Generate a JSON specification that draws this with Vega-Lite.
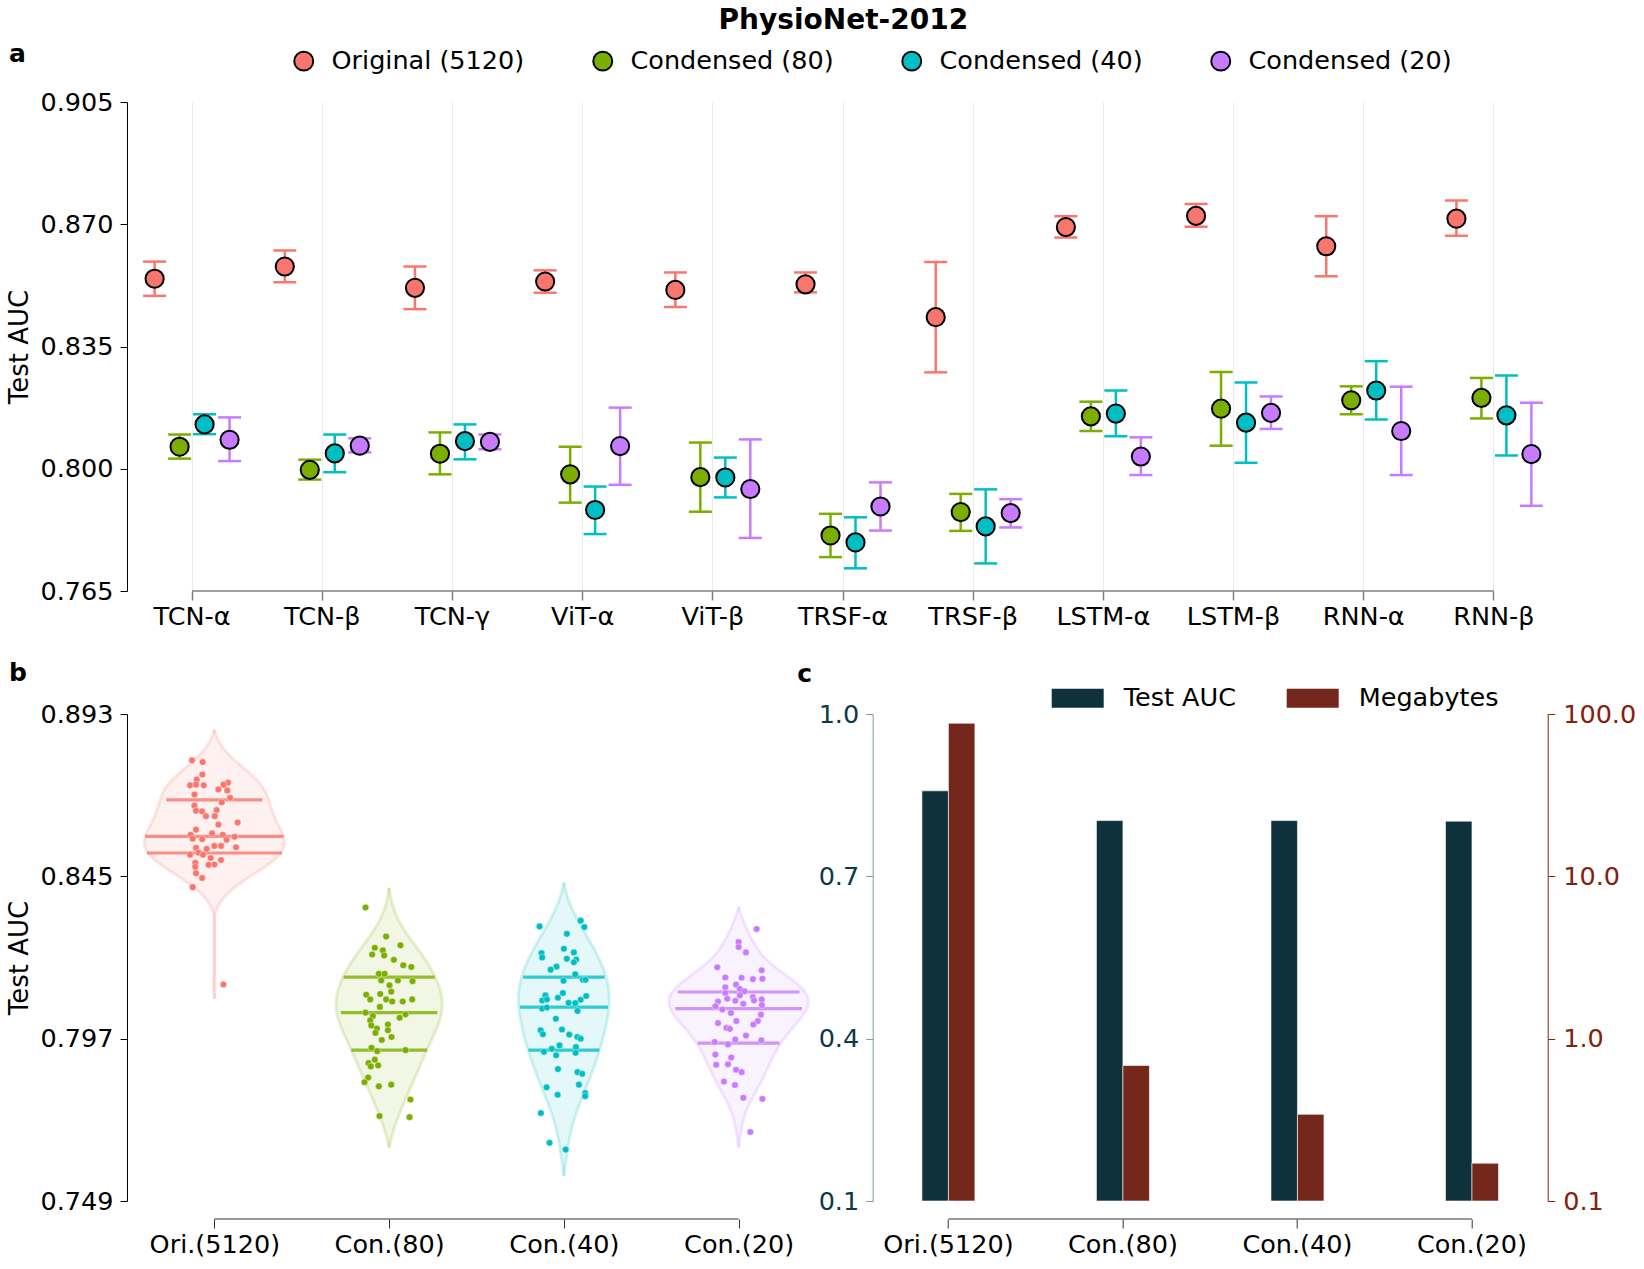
{
"$schema": "https://vega.github.io/schema/vega-lite/v6.json",
"padding": {"left": 6, "top": 7, "right": 2, "bottom": 4},
"bounds": "flush",
"spacing": 123,
"title": {"text": "PhysioNet-2012", "fontSize": 28, "fontWeight": "bold", "anchor": "middle", "frame": "bounds", "dx": 22, "offset": 7, "color": "black"},
"config": {
  "font": "DejaVu Sans",
  "view": {"stroke": null},
  "axis": {"labelFontSize": 25.5, "titleFontSize": 26, "titleFontWeight": "normal", "labelColor": "black", "titleColor": "black", "domainColor": "black", "tickColor": "black", "labelFont": "DejaVu Sans", "titleFont": "DejaVu Sans", "grid": false},
  "legend": {"labelFontSize": 25.5, "labelFont": "DejaVu Sans", "labelLimit": 400, "padding": 0},
  "title": {"font": "DejaVu Sans"}
},
"resolve": {"scale": {"color": "independent", "x": "independent", "y": "independent", "xOffset": "independent"}, "legend": {"color": "independent"}},
"datasets": {
  "models": [
    {"model": "TCN-α", "series": "Original (5120)", "mean": 0.8544, "lo": 0.8495, "hi": 0.8593},
    {"model": "TCN-β", "series": "Original (5120)", "mean": 0.8579, "lo": 0.8534, "hi": 0.8625},
    {"model": "TCN-γ", "series": "Original (5120)", "mean": 0.8518, "lo": 0.8457, "hi": 0.8579},
    {"model": "ViT-α", "series": "Original (5120)", "mean": 0.8536, "lo": 0.8504, "hi": 0.8568},
    {"model": "ViT-β", "series": "Original (5120)", "mean": 0.8512, "lo": 0.8463, "hi": 0.8562},
    {"model": "TRSF-α", "series": "Original (5120)", "mean": 0.8528, "lo": 0.8505, "hi": 0.8562},
    {"model": "TRSF-β", "series": "Original (5120)", "mean": 0.8434, "lo": 0.8276, "hi": 0.8592},
    {"model": "LSTM-α", "series": "Original (5120)", "mean": 0.8692, "lo": 0.8662, "hi": 0.8723},
    {"model": "LSTM-β", "series": "Original (5120)", "mean": 0.8724, "lo": 0.8693, "hi": 0.8758},
    {"model": "RNN-α", "series": "Original (5120)", "mean": 0.8637, "lo": 0.8551, "hi": 0.8723},
    {"model": "RNN-β", "series": "Original (5120)", "mean": 0.8716, "lo": 0.8667, "hi": 0.8768},
    {"model": "TCN-α", "series": "Condensed (80)", "mean": 0.8063, "lo": 0.8029, "hi": 0.8098},
    {"model": "TCN-β", "series": "Condensed (80)", "mean": 0.7997, "lo": 0.7969, "hi": 0.8026},
    {"model": "TCN-γ", "series": "Condensed (80)", "mean": 0.8043, "lo": 0.7984, "hi": 0.8104},
    {"model": "ViT-α", "series": "Condensed (80)", "mean": 0.7984, "lo": 0.7903, "hi": 0.8063},
    {"model": "ViT-β", "series": "Condensed (80)", "mean": 0.7976, "lo": 0.7877, "hi": 0.8075},
    {"model": "TRSF-α", "series": "Condensed (80)", "mean": 0.7809, "lo": 0.7747, "hi": 0.7871},
    {"model": "TRSF-β", "series": "Condensed (80)", "mean": 0.7876, "lo": 0.7822, "hi": 0.7928},
    {"model": "LSTM-α", "series": "Condensed (80)", "mean": 0.815, "lo": 0.8108, "hi": 0.8192},
    {"model": "LSTM-β", "series": "Condensed (80)", "mean": 0.8172, "lo": 0.8066, "hi": 0.8277},
    {"model": "RNN-α", "series": "Condensed (80)", "mean": 0.8196, "lo": 0.8156, "hi": 0.8236},
    {"model": "RNN-β", "series": "Condensed (80)", "mean": 0.8203, "lo": 0.8144, "hi": 0.826},
    {"model": "TCN-α", "series": "Condensed (40)", "mean": 0.8127, "lo": 0.8099, "hi": 0.8156},
    {"model": "TCN-β", "series": "Condensed (40)", "mean": 0.8044, "lo": 0.799, "hi": 0.8098},
    {"model": "TCN-γ", "series": "Condensed (40)", "mean": 0.8079, "lo": 0.8027, "hi": 0.8127},
    {"model": "ViT-α", "series": "Condensed (40)", "mean": 0.7882, "lo": 0.7813, "hi": 0.7949},
    {"model": "ViT-β", "series": "Condensed (40)", "mean": 0.7975, "lo": 0.7918, "hi": 0.8032},
    {"model": "TRSF-α", "series": "Condensed (40)", "mean": 0.7789, "lo": 0.7715, "hi": 0.7861},
    {"model": "TRSF-β", "series": "Condensed (40)", "mean": 0.7835, "lo": 0.7729, "hi": 0.7941},
    {"model": "LSTM-α", "series": "Condensed (40)", "mean": 0.8158, "lo": 0.8093, "hi": 0.8224},
    {"model": "LSTM-β", "series": "Condensed (40)", "mean": 0.8132, "lo": 0.8017, "hi": 0.8247},
    {"model": "RNN-α", "series": "Condensed (40)", "mean": 0.8224, "lo": 0.8141, "hi": 0.8308},
    {"model": "RNN-β", "series": "Condensed (40)", "mean": 0.8153, "lo": 0.8038, "hi": 0.8267},
    {"model": "TCN-α", "series": "Condensed (20)", "mean": 0.8083, "lo": 0.8022, "hi": 0.8147},
    {"model": "TCN-β", "series": "Condensed (20)", "mean": 0.8066, "lo": 0.8047, "hi": 0.8087},
    {"model": "TCN-γ", "series": "Condensed (20)", "mean": 0.8077, "lo": 0.8056, "hi": 0.8098},
    {"model": "ViT-α", "series": "Condensed (20)", "mean": 0.8065, "lo": 0.7954, "hi": 0.8175},
    {"model": "ViT-β", "series": "Condensed (20)", "mean": 0.7942, "lo": 0.7802, "hi": 0.8084},
    {"model": "TRSF-α", "series": "Condensed (20)", "mean": 0.7892, "lo": 0.7823, "hi": 0.7961},
    {"model": "TRSF-β", "series": "Condensed (20)", "mean": 0.7873, "lo": 0.7832, "hi": 0.7913},
    {"model": "LSTM-α", "series": "Condensed (20)", "mean": 0.8035, "lo": 0.7982, "hi": 0.809},
    {"model": "LSTM-β", "series": "Condensed (20)", "mean": 0.816, "lo": 0.8114, "hi": 0.8207},
    {"model": "RNN-α", "series": "Condensed (20)", "mean": 0.8108, "lo": 0.7982, "hi": 0.8235},
    {"model": "RNN-β", "series": "Condensed (20)", "mean": 0.8042, "lo": 0.7894, "hi": 0.8189}
  ],
  "pts": [
    {"group": "Ori.(5120)", "auc": 0.8793, "jitter": -0.128}, {"group": "Ori.(5120)", "auc": 0.8788, "jitter": -0.067}, {"group": "Ori.(5120)", "auc": 0.8751, "jitter": -0.069}, {"group": "Ori.(5120)", "auc": 0.8736, "jitter": -0.101}, {"group": "Ori.(5120)", "auc": 0.8719, "jitter": -0.139}, {"group": "Ori.(5120)", "auc": 0.8721, "jitter": -0.105}, {"group": "Ori.(5120)", "auc": 0.8719, "jitter": -0.061}, {"group": "Ori.(5120)", "auc": 0.8727, "jitter": 0.078}, {"group": "Ori.(5120)", "auc": 0.8721, "jitter": 0.052}, {"group": "Ori.(5120)", "auc": 0.8707, "jitter": 0.023}, {"group": "Ori.(5120)", "auc": 0.8704, "jitter": 0.074}, {"group": "Ori.(5120)", "auc": 0.8692, "jitter": -0.114}, {"group": "Ori.(5120)", "auc": 0.8682, "jitter": 0.09}, {"group": "Ori.(5120)", "auc": 0.8669, "jitter": 0.042}, {"group": "Ori.(5120)", "auc": 0.8659, "jitter": -0.114}, {"group": "Ori.(5120)", "auc": 0.8644, "jitter": -0.105}, {"group": "Ori.(5120)", "auc": 0.8642, "jitter": -0.07}, {"group": "Ori.(5120)", "auc": 0.8646, "jitter": 0.013}, {"group": "Ori.(5120)", "auc": 0.8628, "jitter": -0.048}, {"group": "Ori.(5120)", "auc": 0.8628, "jitter": 0.002}, {"group": "Ori.(5120)", "auc": 0.8609, "jitter": 0.133}, {"group": "Ori.(5120)", "auc": 0.8603, "jitter": 0.023}, {"group": "Ori.(5120)", "auc": 0.8588, "jitter": -0.105}, {"group": "Ori.(5120)", "auc": 0.8573, "jitter": -0.136}, {"group": "Ori.(5120)", "auc": 0.8561, "jitter": -0.124}, {"group": "Ori.(5120)", "auc": 0.8577, "jitter": -0.013}, {"group": "Ori.(5120)", "auc": 0.8573, "jitter": 0.048}, {"group": "Ori.(5120)", "auc": 0.856, "jitter": -0.07}, {"group": "Ori.(5120)", "auc": 0.8567, "jitter": 0.116}, {"group": "Ori.(5120)", "auc": 0.8558, "jitter": 0.07}, {"group": "Ori.(5120)", "auc": 0.854, "jitter": 0.038}, {"group": "Ori.(5120)", "auc": 0.854, "jitter": 0.0}, {"group": "Ori.(5120)", "auc": 0.8536, "jitter": 0.124}, {"group": "Ori.(5120)", "auc": 0.8534, "jitter": -0.105}, {"group": "Ori.(5120)", "auc": 0.8531, "jitter": -0.044}, {"group": "Ori.(5120)", "auc": 0.852, "jitter": -0.09}, {"group": "Ori.(5120)", "auc": 0.8514, "jitter": -0.139}, {"group": "Ori.(5120)", "auc": 0.8514, "jitter": -0.065}, {"group": "Ori.(5120)", "auc": 0.8504, "jitter": -0.021}, {"group": "Ori.(5120)", "auc": 0.8498, "jitter": 0.038}, {"group": "Ori.(5120)", "auc": 0.849, "jitter": -0.109}, {"group": "Ori.(5120)", "auc": 0.8484, "jitter": -0.033}, {"group": "Ori.(5120)", "auc": 0.8485, "jitter": 0.0}, {"group": "Ori.(5120)", "auc": 0.8478, "jitter": -0.109}, {"group": "Ori.(5120)", "auc": 0.8459, "jitter": -0.105}, {"group": "Ori.(5120)", "auc": 0.8445, "jitter": -0.07}, {"group": "Ori.(5120)", "auc": 0.8418, "jitter": -0.124}, {"group": "Ori.(5120)", "auc": 0.813, "jitter": 0.052},
    {"group": "Con.(80)", "auc": 0.8358, "jitter": -0.135}, {"group": "Con.(80)", "auc": 0.8272, "jitter": -0.017}, {"group": "Con.(80)", "auc": 0.8239, "jitter": -0.082}, {"group": "Con.(80)", "auc": 0.8231, "jitter": -0.036}, {"group": "Con.(80)", "auc": 0.8219, "jitter": -0.097}, {"group": "Con.(80)", "auc": 0.8216, "jitter": -0.028}, {"group": "Con.(80)", "auc": 0.8246, "jitter": 0.065}, {"group": "Con.(80)", "auc": 0.8203, "jitter": 0.027}, {"group": "Con.(80)", "auc": 0.8187, "jitter": 0.081}, {"group": "Con.(80)", "auc": 0.8182, "jitter": 0.127}, {"group": "Con.(80)", "auc": 0.8162, "jitter": -0.059}, {"group": "Con.(80)", "auc": 0.8162, "jitter": -0.026}, {"group": "Con.(80)", "auc": 0.8142, "jitter": -0.045}, {"group": "Con.(80)", "auc": 0.8142, "jitter": 0.05}, {"group": "Con.(80)", "auc": 0.814, "jitter": 0.134}, {"group": "Con.(80)", "auc": 0.8128, "jitter": 0.002}, {"group": "Con.(80)", "auc": 0.8109, "jitter": 0.012}, {"group": "Con.(80)", "auc": 0.81, "jitter": -0.131}, {"group": "Con.(80)", "auc": 0.8102, "jitter": -0.051}, {"group": "Con.(80)", "auc": 0.8086, "jitter": -0.108}, {"group": "Con.(80)", "auc": 0.8086, "jitter": -0.017}, {"group": "Con.(80)", "auc": 0.808, "jitter": 0.018}, {"group": "Con.(80)", "auc": 0.808, "jitter": 0.078}, {"group": "Con.(80)", "auc": 0.8086, "jitter": 0.132}, {"group": "Con.(80)", "auc": 0.8064, "jitter": -0.053}, {"group": "Con.(80)", "auc": 0.8047, "jitter": -0.135}, {"group": "Con.(80)", "auc": 0.8037, "jitter": -0.093}, {"group": "Con.(80)", "auc": 0.8042, "jitter": 0.094}, {"group": "Con.(80)", "auc": 0.8032, "jitter": 0.06}, {"group": "Con.(80)", "auc": 0.8024, "jitter": -0.108}, {"group": "Con.(80)", "auc": 0.8009, "jitter": -0.102}, {"group": "Con.(80)", "auc": 0.8012, "jitter": -0.007}, {"group": "Con.(80)", "auc": 0.8, "jitter": -0.07}, {"group": "Con.(80)", "auc": 0.7987, "jitter": -0.078}, {"group": "Con.(80)", "auc": 0.7995, "jitter": -0.007}, {"group": "Con.(80)", "auc": 0.7975, "jitter": 0.014}, {"group": "Con.(80)", "auc": 0.7966, "jitter": -0.042}, {"group": "Con.(80)", "auc": 0.7943, "jitter": -0.101}, {"group": "Con.(80)", "auc": 0.7933, "jitter": -0.068}, {"group": "Con.(80)", "auc": 0.7936, "jitter": 0.094}, {"group": "Con.(80)", "auc": 0.7908, "jitter": -0.082}, {"group": "Con.(80)", "auc": 0.7898, "jitter": -0.118}, {"group": "Con.(80)", "auc": 0.7888, "jitter": -0.105}, {"group": "Con.(80)", "auc": 0.7891, "jitter": -0.063}, {"group": "Con.(80)", "auc": 0.7855, "jitter": -0.12}, {"group": "Con.(80)", "auc": 0.7841, "jitter": -0.141}, {"group": "Con.(80)", "auc": 0.7829, "jitter": -0.059}, {"group": "Con.(80)", "auc": 0.7834, "jitter": 0.012}, {"group": "Con.(80)", "auc": 0.779, "jitter": 0.122}, {"group": "Con.(80)", "auc": 0.7741, "jitter": -0.055}, {"group": "Con.(80)", "auc": 0.7738, "jitter": 0.117},
    {"group": "Con.(40)", "auc": 0.8302, "jitter": -0.139}, {"group": "Con.(40)", "auc": 0.8319, "jitter": 0.096}, {"group": "Con.(40)", "auc": 0.83, "jitter": 0.117}, {"group": "Con.(40)", "auc": 0.828, "jitter": 0.017}, {"group": "Con.(40)", "auc": 0.8236, "jitter": 0.0}, {"group": "Con.(40)", "auc": 0.8223, "jitter": -0.128}, {"group": "Con.(40)", "auc": 0.821, "jitter": -0.124}, {"group": "Con.(40)", "auc": 0.8225, "jitter": 0.057}, {"group": "Con.(40)", "auc": 0.8206, "jitter": 0.017}, {"group": "Con.(40)", "auc": 0.8204, "jitter": 0.071}, {"group": "Con.(40)", "auc": 0.8196, "jitter": 0.057}, {"group": "Con.(40)", "auc": 0.8183, "jitter": -0.042}, {"group": "Con.(40)", "auc": 0.8174, "jitter": -0.076}, {"group": "Con.(40)", "auc": 0.816, "jitter": 0.065}, {"group": "Con.(40)", "auc": 0.8144, "jitter": 0.109}, {"group": "Con.(40)", "auc": 0.8144, "jitter": 0.124}, {"group": "Con.(40)", "auc": 0.8141, "jitter": -0.002}, {"group": "Con.(40)", "auc": 0.8098, "jitter": -0.106}, {"group": "Con.(40)", "auc": 0.8105, "jitter": -0.006}, {"group": "Con.(40)", "auc": 0.8091, "jitter": -0.034}, {"group": "Con.(40)", "auc": 0.8096, "jitter": 0.128}, {"group": "Con.(40)", "auc": 0.8085, "jitter": 0.096}, {"group": "Con.(40)", "auc": 0.8083, "jitter": -0.124}, {"group": "Con.(40)", "auc": 0.8086, "jitter": -0.097}, {"group": "Con.(40)", "auc": 0.8076, "jitter": 0.027}, {"group": "Con.(40)", "auc": 0.8075, "jitter": 0.065}, {"group": "Con.(40)", "auc": 0.8059, "jitter": -0.124}, {"group": "Con.(40)", "auc": 0.8062, "jitter": -0.097}, {"group": "Con.(40)", "auc": 0.8052, "jitter": 0.078}, {"group": "Con.(40)", "auc": 0.8029, "jitter": -0.046}, {"group": "Con.(40)", "auc": 0.7995, "jitter": -0.133}, {"group": "Con.(40)", "auc": 0.7983, "jitter": -0.12}, {"group": "Con.(40)", "auc": 0.7997, "jitter": -0.011}, {"group": "Con.(40)", "auc": 0.7982, "jitter": 0.031}, {"group": "Con.(40)", "auc": 0.7975, "jitter": 0.077}, {"group": "Con.(40)", "auc": 0.797, "jitter": 0.096}, {"group": "Con.(40)", "auc": 0.795, "jitter": -0.025}, {"group": "Con.(40)", "auc": 0.794, "jitter": -0.069}, {"group": "Con.(40)", "auc": 0.7931, "jitter": -0.114}, {"group": "Con.(40)", "auc": 0.7921, "jitter": -0.044}, {"group": "Con.(40)", "auc": 0.7945, "jitter": 0.069}, {"group": "Con.(40)", "auc": 0.7928, "jitter": 0.067}, {"group": "Con.(40)", "auc": 0.788, "jitter": -0.034}, {"group": "Con.(40)", "auc": 0.7871, "jitter": 0.078}, {"group": "Con.(40)", "auc": 0.7866, "jitter": 0.105}, {"group": "Con.(40)", "auc": 0.7826, "jitter": -0.099}, {"group": "Con.(40)", "auc": 0.7834, "jitter": 0.086}, {"group": "Con.(40)", "auc": 0.7804, "jitter": -0.036}, {"group": "Con.(40)", "auc": 0.7809, "jitter": 0.122}, {"group": "Con.(40)", "auc": 0.78, "jitter": 0.122}, {"group": "Con.(40)", "auc": 0.775, "jitter": -0.132}, {"group": "Con.(40)", "auc": 0.7662, "jitter": -0.082}, {"group": "Con.(40)", "auc": 0.7642, "jitter": 0.01},
    {"group": "Con.(20)", "auc": 0.8294, "jitter": 0.103}, {"group": "Con.(20)", "auc": 0.8256, "jitter": 0.0}, {"group": "Con.(20)", "auc": 0.8241, "jitter": 0.0}, {"group": "Con.(20)", "auc": 0.8225, "jitter": 0.042}, {"group": "Con.(20)", "auc": 0.8181, "jitter": -0.122}, {"group": "Con.(20)", "auc": 0.8172, "jitter": 0.132}, {"group": "Con.(20)", "auc": 0.8151, "jitter": -0.076}, {"group": "Con.(20)", "auc": 0.815, "jitter": 0.017}, {"group": "Con.(20)", "auc": 0.8146, "jitter": 0.082}, {"group": "Con.(20)", "auc": 0.8147, "jitter": 0.136}, {"group": "Con.(20)", "auc": 0.813, "jitter": -0.015}, {"group": "Con.(20)", "auc": 0.8122, "jitter": -0.076}, {"group": "Con.(20)", "auc": 0.8117, "jitter": 0.007}, {"group": "Con.(20)", "auc": 0.811, "jitter": 0.034}, {"group": "Con.(20)", "auc": 0.8105, "jitter": -0.076}, {"group": "Con.(20)", "auc": 0.8098, "jitter": 0.007}, {"group": "Con.(20)", "auc": 0.8093, "jitter": 0.082}, {"group": "Con.(20)", "auc": 0.8086, "jitter": 0.132}, {"group": "Con.(20)", "auc": 0.8088, "jitter": -0.065}, {"group": "Con.(20)", "auc": 0.8082, "jitter": -0.019}, {"group": "Con.(20)", "auc": 0.8083, "jitter": 0.088}, {"group": "Con.(20)", "auc": 0.808, "jitter": -0.118}, {"group": "Con.(20)", "auc": 0.8073, "jitter": 0.027}, {"group": "Con.(20)", "auc": 0.8066, "jitter": -0.133}, {"group": "Con.(20)", "auc": 0.8069, "jitter": 0.133}, {"group": "Con.(20)", "auc": 0.8056, "jitter": -0.093}, {"group": "Con.(20)", "auc": 0.8046, "jitter": -0.044}, {"group": "Con.(20)", "auc": 0.8041, "jitter": 0.128}, {"group": "Con.(20)", "auc": 0.8016, "jitter": -0.118}, {"group": "Con.(20)", "auc": 0.8022, "jitter": -0.013}, {"group": "Con.(20)", "auc": 0.8022, "jitter": 0.11}, {"group": "Con.(20)", "auc": 0.8012, "jitter": 0.084}, {"group": "Con.(20)", "auc": 0.8002, "jitter": -0.07}, {"group": "Con.(20)", "auc": 0.7999, "jitter": -0.05}, {"group": "Con.(20)", "auc": 0.7979, "jitter": 0.042}, {"group": "Con.(20)", "auc": 0.796, "jitter": -0.137}, {"group": "Con.(20)", "auc": 0.7953, "jitter": -0.061}, {"group": "Con.(20)", "auc": 0.7967, "jitter": -0.019}, {"group": "Con.(20)", "auc": 0.7965, "jitter": 0.13}, {"group": "Con.(20)", "auc": 0.7923, "jitter": -0.133}, {"group": "Con.(20)", "auc": 0.7914, "jitter": -0.042}, {"group": "Con.(20)", "auc": 0.7893, "jitter": -0.128}, {"group": "Con.(20)", "auc": 0.7894, "jitter": -0.061}, {"group": "Con.(20)", "auc": 0.7878, "jitter": -0.015}, {"group": "Con.(20)", "auc": 0.7871, "jitter": 0.017}, {"group": "Con.(20)", "auc": 0.7843, "jitter": -0.084}, {"group": "Con.(20)", "auc": 0.7833, "jitter": -0.021}, {"group": "Con.(20)", "auc": 0.7795, "jitter": 0.027}, {"group": "Con.(20)", "auc": 0.7792, "jitter": 0.136}, {"group": "Con.(20)", "auc": 0.7694, "jitter": 0.067}
  ],
  "quart": [
    {"group": "Ori.(5120)", "stat": "q3", "auc": 0.8676, "w": 0.55},
    {"group": "Ori.(5120)", "stat": "median", "auc": 0.8568, "w": 0.792},
    {"group": "Ori.(5120)", "stat": "q1", "auc": 0.8519, "w": 0.773},
    {"group": "Con.(80)", "stat": "q3", "auc": 0.8152, "w": 0.521},
    {"group": "Con.(80)", "stat": "median", "auc": 0.8047, "w": 0.552},
    {"group": "Con.(80)", "stat": "q1", "auc": 0.7936, "w": 0.433},
    {"group": "Con.(40)", "stat": "q3", "auc": 0.8152, "w": 0.466},
    {"group": "Con.(40)", "stat": "median", "auc": 0.8063, "w": 0.504},
    {"group": "Con.(40)", "stat": "q1", "auc": 0.7936, "w": 0.406},
    {"group": "Con.(20)", "stat": "q3", "auc": 0.8108, "w": 0.697},
    {"group": "Con.(20)", "stat": "median", "auc": 0.8059, "w": 0.725},
    {"group": "Con.(20)", "stat": "q1", "auc": 0.7957, "w": 0.468}
  ],
  "bars": [
    {"group": "Ori.(5120)", "metric": "Test AUC", "value": 0.858},
    {"group": "Con.(80)", "metric": "Test AUC", "value": 0.803},
    {"group": "Con.(40)", "metric": "Test AUC", "value": 0.803},
    {"group": "Con.(20)", "metric": "Test AUC", "value": 0.802},
    {"group": "Ori.(5120)", "metric": "Megabytes", "value": 87.7},
    {"group": "Con.(80)", "metric": "Megabytes", "value": 0.684},
    {"group": "Con.(40)", "metric": "Megabytes", "value": 0.342},
    {"group": "Con.(20)", "metric": "Megabytes", "value": 0.171}
  ]
},
"vconcat": [
  {
    "width": 1432, "height": 489,
    "title": {"text": "a", "anchor": "start", "frame": "bounds", "fontSize": 25, "fontWeight": "bold", "offset": 0, "dx": 2, "dy": 19, "color": "black"},
    "data": {"name": "models"},
    "encoding": {
      "x": {"field": "model", "type": "nominal",
        "scale": {"domain": ["TCN-α", "TCN-β", "TCN-γ", "ViT-α", "ViT-β", "TRSF-α", "TRSF-β", "LSTM-α", "LSTM-β", "RNN-α", "RNN-β"], "paddingInner": 0, "paddingOuter": 0},
        "axis": {"title": null, "labelAngle": 0, "domain": false, "grid": true, "gridColor": "#ebebeb", "gridWidth": 1, "tickColor": "#808080", "tickSize": 9, "tickWidth": 1.5, "labelPadding": 4, "bandPosition": 0.5}}
    },
    "layer": [
      {"mark": {"type": "rule", "strokeWidth": 2.5},
       "encoding": {
         "xOffset": {"field": "series", "type": "nominal", "scale": {"domain": ["Original (5120)", "Condensed (80)", "Condensed (40)", "Condensed (20)"], "paddingInner": 0, "paddingOuter": 0.605}},
         "y": {"field": "lo", "type": "quantitative", "scale": {"domain": [0.765, 0.905], "nice": false, "zero": false},
           "axis": {"title": "Test AUC", "values": [0.765, 0.8, 0.835, 0.87, 0.905], "format": ".3f", "tickSize": 7, "labelPadding": 7, "titlePadding": 7}},
         "y2": {"field": "hi"},
         "color": {"field": "series", "type": "nominal", "scale": {"domain": ["Original (5120)", "Condensed (80)", "Condensed (40)", "Condensed (20)"], "range": ["#F8766D", "#7CAE00", "#00BFC4", "#C77CFF"]}, "legend": null}
       }},
      {"mark": {"type": "tick", "size": 23, "thickness": 2.5, "opacity": 1},
       "encoding": {
         "xOffset": {"field": "series", "type": "nominal"},
         "y": {"field": "lo", "type": "quantitative", "title": "Test AUC"},
         "color": {"field": "series", "type": "nominal", "legend": null}
       }},
      {"mark": {"type": "tick", "size": 23, "thickness": 2.5, "opacity": 1},
       "encoding": {
         "xOffset": {"field": "series", "type": "nominal"},
         "y": {"field": "hi", "type": "quantitative", "title": "Test AUC"},
         "color": {"field": "series", "type": "nominal", "legend": null}
       }},
      {"mark": {"type": "point", "shape": "circle", "filled": true, "size": 330, "stroke": "black", "strokeWidth": 2, "opacity": 1},
       "encoding": {
         "xOffset": {"field": "series", "type": "nominal"},
         "y": {"field": "mean", "type": "quantitative", "title": "Test AUC"},
         "color": {"field": "series", "type": "nominal",
           "legend": {"orient": "none", "legendX": 164, "legendY": -54, "direction": "horizontal", "title": null, "symbolType": "circle", "symbolSize": 360, "symbolStrokeColor": "black", "symbolStrokeWidth": 2, "symbolOpacity": 1, "columnPadding": 64, "labelOffset": 15, "labelColor": "black", "labelFontSize": 25.5,
             "encode": {"symbols": {"update": {"stroke": {"value": "black"}, "strokeWidth": {"value": 2}}}}}}
       }},
      {"data": {"values": [{}]},
       "mark": {"type": "rule", "color": "#808080", "strokeWidth": 1.5},
       "encoding": {
         "x": {"datum": "TCN-α"},
         "x2": {"datum": "RNN-β"},
         "y": {"datum": 0.765}
       }}
    ],
    "resolve": {"legend": {"color": "independent"}}
  },
  {
    "hconcat": [
      {
        "width": 699, "height": 487,
        "title": {"text": "b", "anchor": "start", "frame": "bounds", "fontSize": 25, "fontWeight": "bold", "offset": 16, "dx": 2, "color": "black"},
        "data": {"name": "pts"},
        "encoding": {
          "x": {"field": "group", "type": "nominal",
            "scale": {"type": "point", "domain": ["Ori.(5120)", "Con.(80)", "Con.(40)", "Con.(20)"], "padding": 0.5},
            "axis": {"title": null, "labelAngle": 0, "domain": false, "offset": 18, "tickSize": 9, "tickColor": "#333333", "labelPadding": 4}}
        },
        "layer": [
          {"transform": [{"density": "auc", "groupby": ["group"], "extent": [0.74, 0.9], "steps": 400, "as": ["auc", "density"]}, {"filter": "datum.density > 1.1"}],
           "mark": {"type": "area", "orient": "horizontal", "opacity": 0.1},
           "encoding": {
             "y": {"field": "auc", "type": "quantitative", "scale": {"domain": [0.749, 0.893], "nice": false, "zero": false},
               "axis": {"title": "Test AUC", "values": [0.749, 0.797, 0.845, 0.893], "format": ".3f", "tickSize": 7, "labelPadding": 7, "titlePadding": 7}},
             "x2": {"field": "group"},
             "xOffset": {"field": "density", "type": "quantitative", "scale": {"range": [0, 70]}},
             "color": {"field": "group", "type": "nominal", "scale": {"domain": ["Ori.(5120)", "Con.(80)", "Con.(40)", "Con.(20)"], "range": ["#F8766D", "#7CAE00", "#00BFC4", "#C77CFF"]}, "legend": null}
           }},
          {"transform": [{"density": "auc", "groupby": ["group"], "extent": [0.74, 0.9], "steps": 400, "as": ["auc", "density"]}, {"filter": "datum.density > 1.1"}],
           "mark": {"type": "area", "orient": "horizontal", "opacity": 0.1},
           "encoding": {
             "y": {"field": "auc", "type": "quantitative", "title": "Test AUC"},
             "x2": {"field": "group"},
             "xOffset": {"field": "density", "type": "quantitative", "scale": {"range": [0, -70]}},
             "color": {"field": "group", "type": "nominal", "legend": null}
           }},
          {"transform": [{"density": "auc", "groupby": ["group"], "extent": [0.74, 0.9], "steps": 400, "as": ["auc", "density"]}, {"filter": "datum.density > 1.1"}],
           "mark": {"type": "line", "strokeWidth": 3, "opacity": 0.18},
           "encoding": {
             "y": {"field": "auc", "type": "quantitative", "title": "Test AUC"},
             "xOffset": {"field": "density", "type": "quantitative", "scale": {"range": [0, 70]}},
             "order": {"field": "auc", "type": "quantitative"},
             "color": {"field": "group", "type": "nominal", "legend": null}
           }},
          {"transform": [{"density": "auc", "groupby": ["group"], "extent": [0.74, 0.9], "steps": 400, "as": ["auc", "density"]}, {"filter": "datum.density > 1.1"}],
           "mark": {"type": "line", "strokeWidth": 3, "opacity": 0.18},
           "encoding": {
             "y": {"field": "auc", "type": "quantitative", "title": "Test AUC"},
             "xOffset": {"field": "density", "type": "quantitative", "scale": {"range": [0, -70]}},
             "order": {"field": "auc", "type": "quantitative"},
             "color": {"field": "group", "type": "nominal", "legend": null}
           }},
          {"data": {"name": "quart"},
           "mark": {"type": "tick", "thickness": 3.2, "opacity": 0.8},
           "encoding": {
             "y": {"field": "auc", "type": "quantitative", "title": "Test AUC"},
             "size": {"field": "w", "type": "quantitative", "scale": {"domain": [0, 1], "range": [0, 174.75], "zero": true}, "legend": null},
             "color": {"field": "group", "type": "nominal", "legend": null}
           }},
          {"mark": {"type": "circle", "size": 44, "opacity": 1, "stroke": "white", "strokeWidth": 0.4},
           "encoding": {
             "y": {"field": "auc", "type": "quantitative", "title": "Test AUC"},
             "xOffset": {"field": "jitter", "type": "quantitative", "scale": {"domain": [-0.5, 0.5], "range": [-87.375, 87.375]}},
             "color": {"field": "group", "type": "nominal", "legend": null}
           }},
          {"data": {"values": [{"group": "Ori.(5120)"}, {"group": "Con.(20)"}]},
           "mark": {"type": "line", "color": "#333333", "strokeWidth": 1.2, "yOffset": 18},
           "encoding": {
             "y": {"datum": 0.749}
           }}
        ],
        "resolve": {"scale": {"xOffset": "independent", "size": "independent"}}
      },
      {
        "width": 675, "height": 487,
        "title": {"text": "c", "anchor": "start", "frame": "bounds", "fontSize": 25, "fontWeight": "bold", "offset": 0, "dx": -21, "dy": 15, "color": "black"},
        "data": {"name": "bars"},
        "encoding": {
          "x": {"field": "group", "type": "nominal",
            "scale": {"domain": ["Ori.(5120)", "Con.(80)", "Con.(40)", "Con.(20)"], "paddingInner": 0.6963, "paddingOuter": 0.282},
            "axis": {"title": null, "labelAngle": 0, "domain": false, "offset": 18, "tickSize": 9, "tickColor": "#333333", "labelPadding": 4, "bandPosition": 0.5}}
        },
        "layer": [
          {"transform": [{"filter": "datum.metric === 'Test AUC'"}],
           "mark": {"type": "bar", "stroke": "white", "strokeWidth": 0.6},
           "encoding": {
             "xOffset": {"field": "metric", "type": "nominal", "scale": {"domain": ["Test AUC", "Megabytes"], "paddingInner": 0, "paddingOuter": 0}},
             "y": {"field": "value", "type": "quantitative", "scale": {"domain": [0.1, 1.0], "nice": false, "zero": false},
               "axis": {"title": null, "values": [0.1, 0.4, 0.7, 1.0], "format": ".1f", "labelColor": "#0b3a47", "domainColor": "#7f9ea6", "tickColor": "#7f9ea6", "tickSize": 7, "labelPadding": 7}},
             "y2": {"datum": 0.1},
             "color": {"field": "metric", "type": "nominal", "scale": {"domain": ["Test AUC", "Megabytes"], "range": ["#0f313b", "#74271b"]},
               "legend": {"orient": "none", "legendX": 179, "legendY": -42, "direction": "horizontal", "title": null, "symbolType": "M-1,-0.365H1V0.365H-1Z", "symbolSize": 2704, "symbolStrokeWidth": 0, "columnPadding": 50, "labelOffset": 20, "labelFontSize": 25.5,
                 "encode": {"labels": {"update": {"fill": {"signal": "datum.label === 'Test AUC' ? '#0b3a47' : '#85200c'"}}}}}}
           }},
          {"transform": [{"filter": "datum.metric === 'Megabytes'"}],
           "mark": {"type": "bar", "stroke": "white", "strokeWidth": 0.6},
           "encoding": {
             "xOffset": {"field": "metric", "type": "nominal"},
             "y": {"field": "value", "type": "quantitative", "scale": {"type": "log", "domain": [0.1, 100], "nice": false},
               "axis": {"orient": "right", "title": null, "values": [0.1, 1, 10, 100], "format": ".1f", "labelColor": "#85200c", "domainColor": "#85200c", "tickColor": "#85200c", "tickSize": 7, "labelPadding": 8}},
             "y2": {"datum": 0.1},
             "color": {"field": "metric", "type": "nominal", "legend": null}
           }},
          {"data": {"values": [{}]},
           "mark": {"type": "rule", "color": "#333333", "strokeWidth": 1.2, "yOffset": 18},
           "encoding": {
             "x": {"datum": "Ori.(5120)"},
             "x2": {"datum": "Con.(20)"},
             "y": {"datum": 0.1, "scale": {"domain": [0.1, 1.0], "nice": false, "zero": false}, "axis": null}
           }}
        ],
        "resolve": {"scale": {"y": "independent"}, "legend": {"color": "independent"}}
      }
    ],
    "spacing": 46.7,
    "bounds": "flush",
    "resolve": {"scale": {"color": "independent", "x": "independent", "y": "independent", "xOffset": "independent"}, "legend": {"color": "independent"}}
  }
]
}
